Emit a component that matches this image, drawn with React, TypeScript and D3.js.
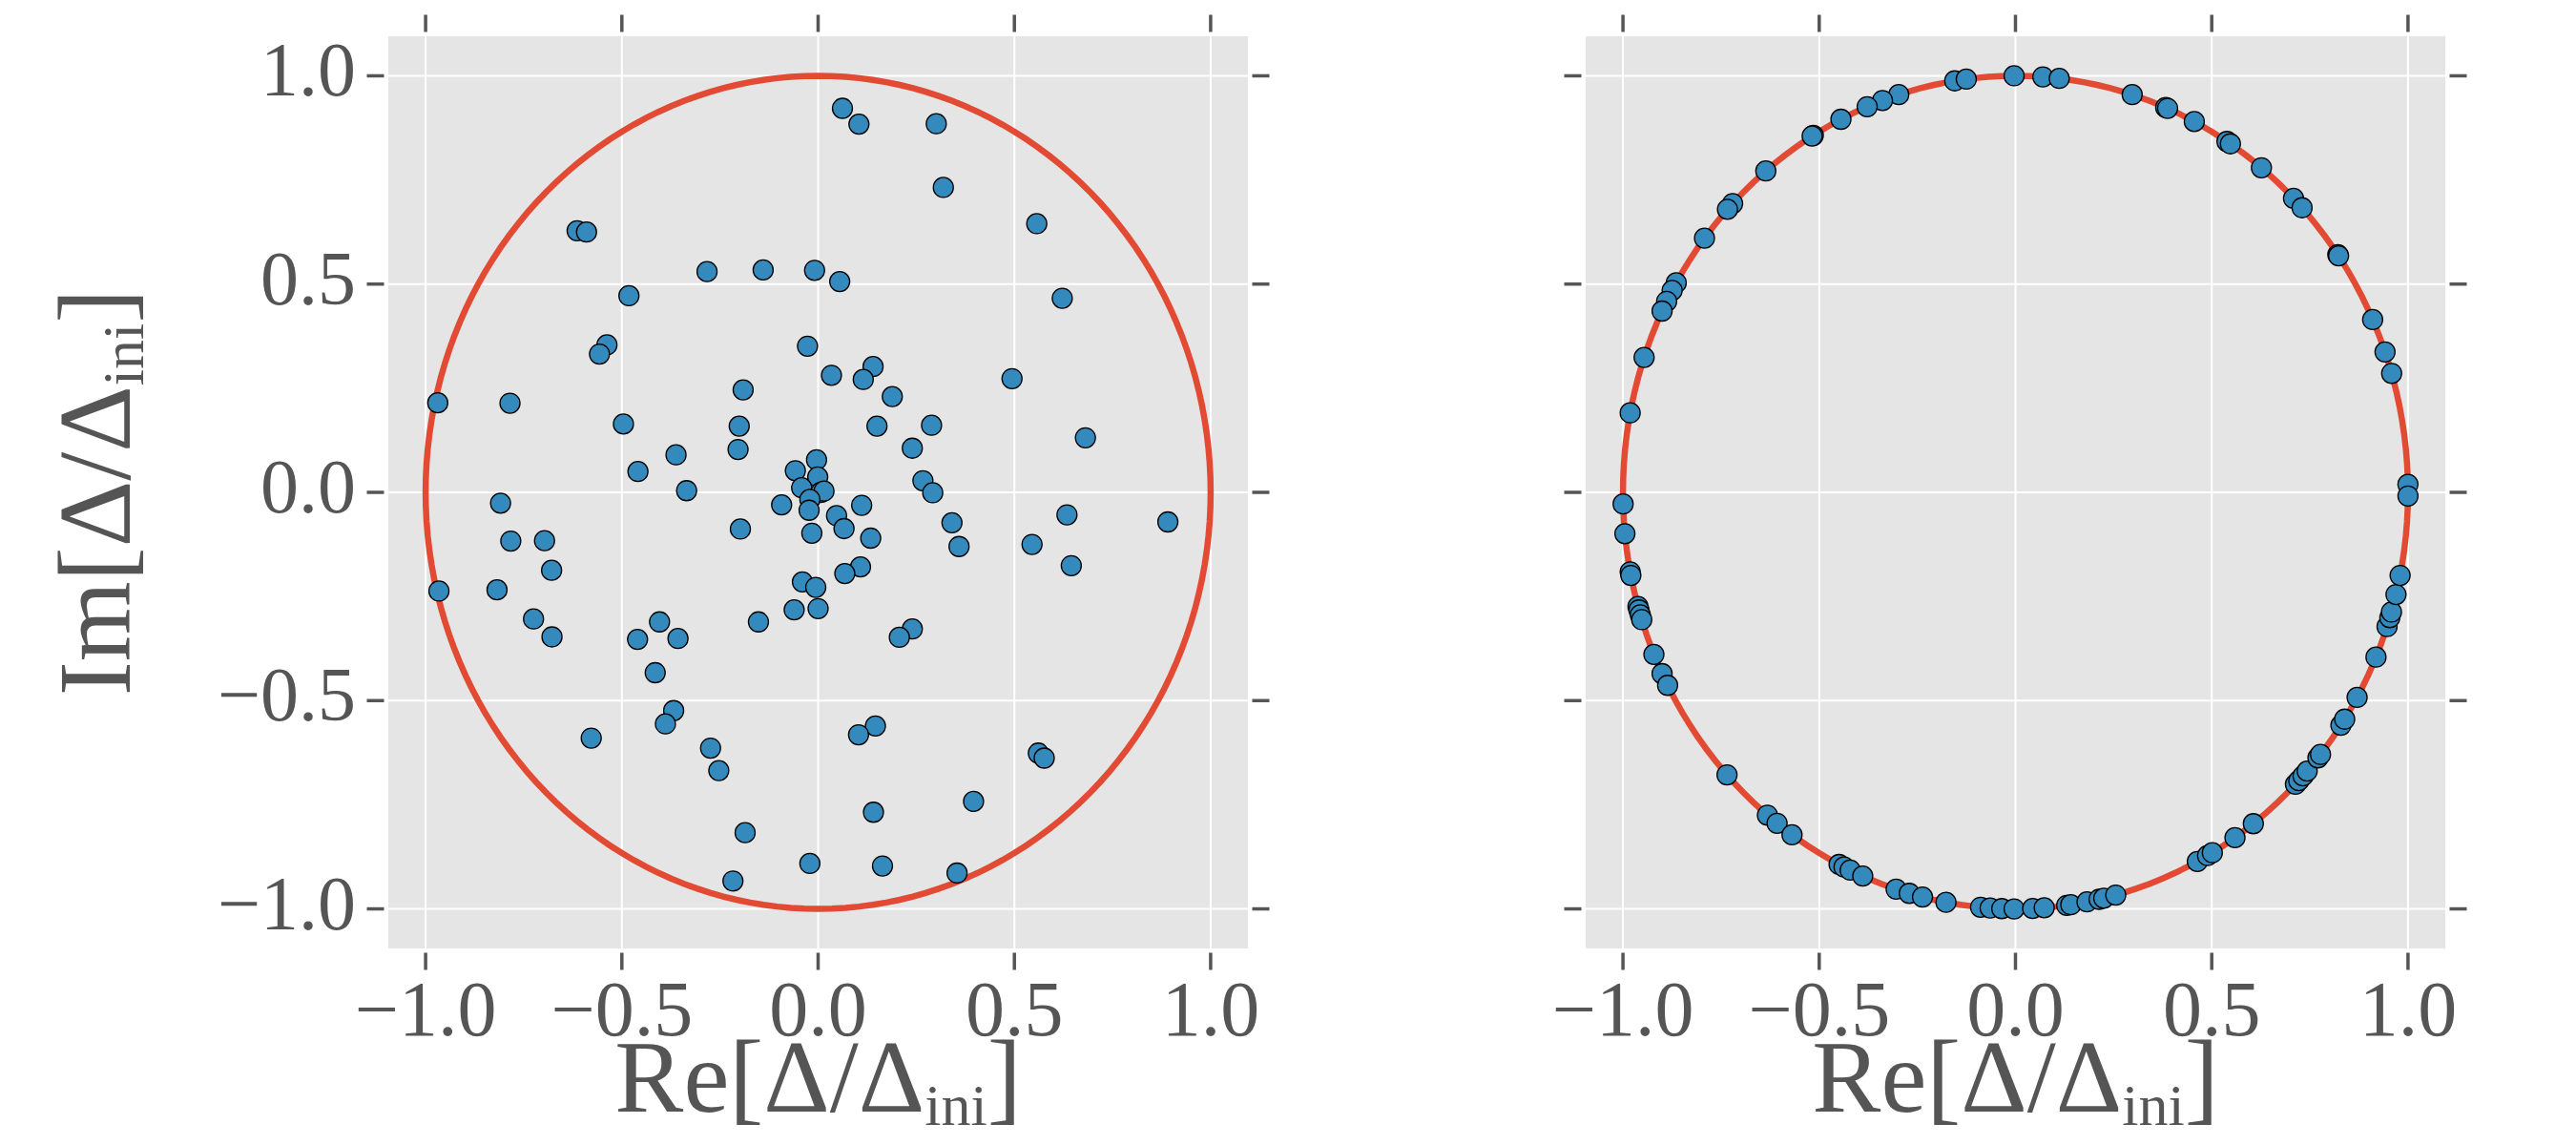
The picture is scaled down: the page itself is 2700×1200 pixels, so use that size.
import React from "react";
import * as d3 from "d3";

// ---- data ----
const leftRe = [
  0.062, 0.104, 0.301, 0.319, 0.557, -0.614, -0.59, -0.283, -0.14, -0.009, 0.055, -0.482, 0.622,
  -0.538, -0.557, -0.027, 0.14, 0.034, 0.115, 0.494, -0.191, 0.189, -0.969, -0.785, -0.496, -0.201,
  0.15, 0.289, 0.681, 0.24, -0.204, -0.362, -0.004, -0.058, -0.459, -0.001, 0.267, -0.335, -0.042,
  0.007, 0.015, -0.021, -0.023, -0.093, 0.111, 0.292, -0.809, 0.047, 0.066, -0.016, -0.198, 0.134,
  0.341, 0.359, 0.545, 0.634, 0.891, 0.645, -0.783, -0.697, -0.679, -0.966, -0.818, 0.108, 0.068,
  -0.04, -0.006, -0.061, 0.0, -0.725, -0.678, -0.404, -0.46, -0.357, -0.152, 0.24, 0.207, -0.415,
  -0.368, -0.389, -0.578, 0.146, 0.103, -0.274, -0.253, 0.561, 0.576, 0.396, 0.141, -0.186, -0.021,
  0.164, 0.354, -0.217,
];
const leftIm = [
  0.922, 0.884, 0.885, 0.732, 0.645, 0.628, 0.625, 0.53, 0.534, 0.533, 0.506, 0.472, 0.466,
  0.354, 0.332, 0.351, 0.302, 0.281, 0.271, 0.273, 0.246, 0.23, 0.215, 0.214, 0.164, 0.159,
  0.159, 0.161, 0.131, 0.106, 0.103, 0.09, 0.078, 0.052, 0.05, 0.037, 0.028, 0.004, 0.011,
  0.0, 0.003, -0.017, -0.043, -0.03, -0.031, -0.001, -0.026, -0.056, -0.087, -0.098, -0.088, -0.11,
  -0.073, -0.13, -0.125, -0.054, -0.071, -0.176, -0.117, -0.116, -0.187, -0.237, -0.234, -0.179, -0.195,
  -0.215, -0.228, -0.282, -0.279, -0.304, -0.347, -0.311, -0.353, -0.351, -0.311, -0.328, -0.348, -0.433,
  -0.524, -0.556, -0.59, -0.561, -0.582, -0.614, -0.668, -0.626, -0.638, -0.742, -0.768, -0.817, -0.891,
  -0.897, -0.914, -0.933,
];
// phases (degrees) of the normalised points in the right panel
const rightPhaseDeg = [
  98.9, 97.2, 90.2, 86.0, 83.6, 72.7, 67.5, 67.2, 62.9, 57.4, 56.8, 51.2, 44.9, 43.1, 34.8, 34.6,
  24.5, 19.7, 16.6, 1.1, -0.5, 107.3, 109.8, 112.2, 116.4, 121.0, 121.2, 129.5, 136.1, 137.2, 142.4,
  149.8, 151.0, 152.7, 154.2, 161.1, 169.0, -178.4, -174.3, -169.0, -168.5, -164.1, -163.6, -162.9,
  -162.2, -157.1, -154.2, -152.4, -137.3, -129.2, -127.4, -124.7, -116.7, -115.9, -114.9, -112.9,
  -107.7, -105.7, -103.7, -100.2, -95.1, -93.7, -92.0, -90.2, -87.5, -85.8, -82.5, -81.9, -79.5,
  -77.7, -77.0, -75.2, -62.4, -60.7, -59.9, -56.0, -52.7, -44.5, -43.8, -42.9, -42.0, -39.6, -39.0,
  -34.0, -33.0, -29.5, -23.3, -18.8, -17.5, -16.7, -14.2, -11.5,
];
const tickValues = [-1.0, -0.5, 0.0, 0.5, 1.0];
const tickLabels = ["\u22121.0", "\u22120.5", "0.0", "0.5", "1.0"];
const circleSteps = d3.range(0, 361, 2);

const FONT = "'Liberation Serif', 'Times New Roman', serif";
const TXT = "#555555";
const BG = "#E5E5E5";
const RED = "#E24A33";
const BLUE = "#348ABD";

type PanelProps = {
  x0: number;
  x1: number;
  pts: [number, number][];
  showY: boolean;
};

const Y0 = 38;
const Y1 = 994;
const DOM: [number, number] = [-1.095, 1.095];

function Panel({ x0, x1, pts, showY }: PanelProps) {
  const x = d3.scaleLinear().domain(DOM).range([x0, x1]);
  const y = d3.scaleLinear().domain(DOM).range([Y1, Y0]);
  const circ = d3
    .line<number>()
    .x((d) => x(Math.cos((d * Math.PI) / 180)))
    .y((d) => y(Math.sin((d * Math.PI) / 180)))(circleSteps);
  const gap = 4.5;
  const tl = 18;
  const cx = (x0 + x1) / 2;
  return (
    <g>
      <rect x={x0} y={Y0} width={x1 - x0} height={Y1 - Y0} fill={BG} />
      {tickValues.map((t, i) => (
        <g key={"g" + i}>
          <line x1={x(t)} x2={x(t)} y1={Y0} y2={Y1} stroke="#ffffff" strokeWidth={2} />
          <line x1={x0} x2={x1} y1={y(t)} y2={y(t)} stroke="#ffffff" strokeWidth={2} />
        </g>
      ))}
      {tickValues.map((t, i) => (
        <g key={"t" + i} stroke={TXT} strokeWidth={3.5}>
          <line x1={x(t)} x2={x(t)} y1={Y0 - gap - tl} y2={Y0 - gap} />
          <line x1={x(t)} x2={x(t)} y1={Y1 + gap} y2={Y1 + gap + tl} />
          <line x1={x0 - gap - tl} x2={x0 - gap} y1={y(t)} y2={y(t)} />
          <line x1={x1 + gap} x2={x1 + gap + tl} y1={y(t)} y2={y(t)} />
        </g>
      ))}
      <path d={circ || ""} fill="none" stroke={RED} strokeWidth={6.5} />
      {pts.map((p, i) => (
        <circle
          key={"p" + i}
          cx={x(p[0])}
          cy={y(p[1])}
          r={10.5}
          fill={BLUE}
          stroke="#000000"
          strokeWidth={1.3}
        />
      ))}
      {tickValues.map((t, i) => (
        <text
          key={"xl" + i}
          x={x(t)}
          y={1085}
          textAnchor="middle"
          fontFamily={FONT}
          fontSize={82}
          fill={TXT}
        >
          {tickLabels[i]}
        </text>
      ))}
      {showY &&
        tickValues.map((t, i) => (
          <text
            key={"yl" + i}
            x={373}
            y={y(t) + 21}
            textAnchor="end"
            fontFamily={FONT}
            fontSize={80}
            fill={TXT}
          >
            {tickLabels[i]}
          </text>
        ))}
      <text x={cx} y={1165} textAnchor="middle" fontFamily={FONT} fontSize={108} fill={TXT}>
        Re[Δ/Δ
        <tspan fontSize={62} dy={14}>
          ini
        </tspan>
        <tspan dy={-14}>]</tspan>
      </text>
      {showY && (
        <text
          transform={`translate(136, ${(Y0 + Y1) / 2}) rotate(-90)`}
          textAnchor="middle"
          fontFamily={FONT}
          fontSize={108}
          fill={TXT}
        >
          Im[Δ/Δ
          <tspan fontSize={62} dy={14}>
            ini
          </tspan>
          <tspan dy={-14}>]</tspan>
        </text>
      )}
    </g>
  );
}

export default function App() {
  const leftPts: [number, number][] = leftRe.map((r, i) => [r, leftIm[i]]);
  const rightPts: [number, number][] = rightPhaseDeg.map((a) => [
    Math.cos((a * Math.PI) / 180),
    Math.sin((a * Math.PI) / 180),
  ]);
  return (
    <svg
      width={2700}
      height={1200}
      viewBox="0 0 2700 1200"
      style={{ position: "absolute", left: 0, top: 0, background: "#ffffff" }}
    >
      <rect width={2700} height={1200} fill="#ffffff" />
      <Panel x0={407} x1={1308} pts={leftPts} showY={true} />
      <Panel x0={1662} x1={2563} pts={rightPts} showY={false} />
    </svg>
  );
}
